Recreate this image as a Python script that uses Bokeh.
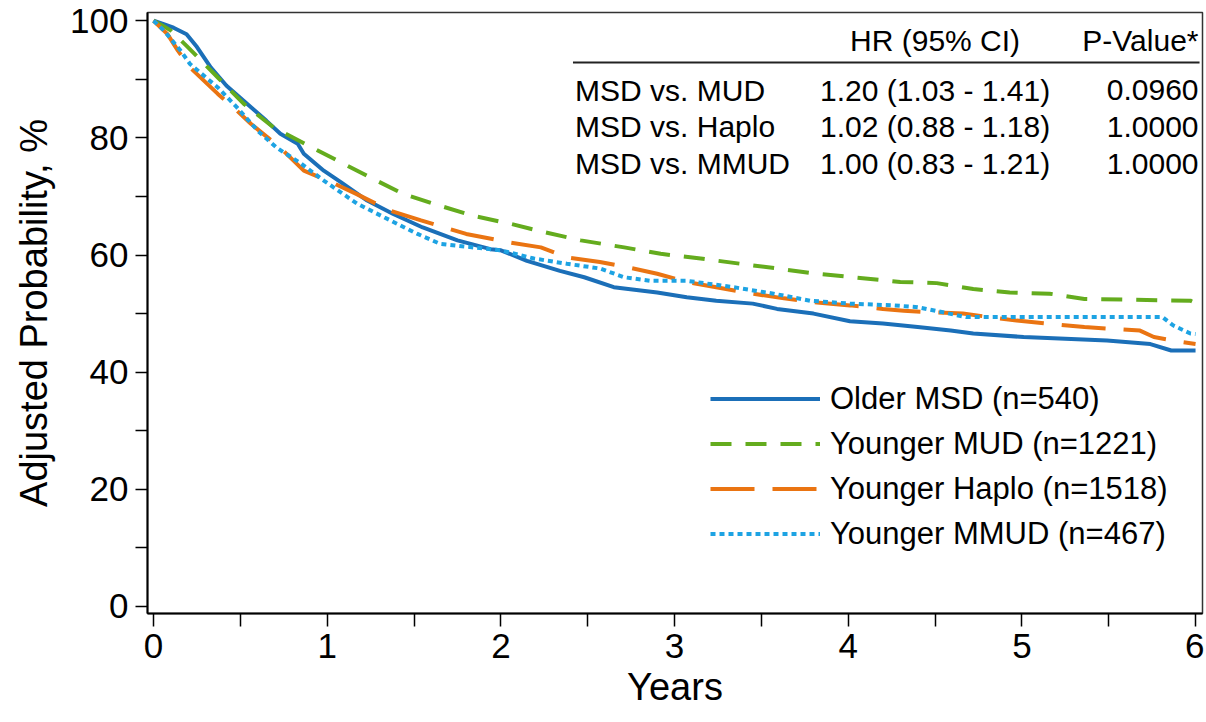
from bokeh.plotting import figure
from bokeh.models import FixedTicker, Legend, LegendItem, Range1d, ColumnDataSource
from bokeh.core.properties import value
from bokeh.embed import file_html
from bokeh.resources import INLINE

FONT = "Liberation Sans"

# ---------------- data ----------------
msd_t = [0, 0.05, 0.115, 0.19, 0.25, 0.33, 0.42, 0.52, 0.65, 0.73, 0.83, 0.865, 0.98, 1.08, 1.23,
         1.38, 1.55, 1.75, 1.94, 2.0, 2.15, 2.34, 2.48, 2.65, 2.9, 3.07, 3.24, 3.45, 3.59, 3.8,
         4.01, 4.2, 4.4, 4.59, 4.72, 5.01, 5.49, 5.74, 5.86, 6.0]
msd_p = [100, 99.5, 98.8, 97.7, 95.5, 92, 88.9, 86.3, 82.9, 80.7, 79, 77.3, 74.4, 72.4, 69.3,
         67, 64.7, 62.5, 61, 60.8, 59, 57.3, 56.2, 54.5, 53.6, 52.8, 52.2, 51.7, 50.8, 50,
         48.7, 48.3, 47.7, 47.1, 46.6, 46, 45.4, 44.8, 43.7, 43.7]

mud_t = [0, 0.05, 0.1, 0.19, 0.37, 0.52, 0.69, 0.87, 1.06, 1.25, 1.44, 1.65, 1.84, 2.06, 2.25,
         2.46, 2.71, 2.92, 3.15, 3.38, 3.59, 3.82, 4.03, 4.3, 4.51, 4.72, 4.93, 5.16, 5.36, 5.97, 6.0]
mud_p = [100, 99.2, 98.3, 95.7, 90.3, 85.8, 81.8, 79, 76.1, 73.2, 70.4, 68.4, 66.7, 65.3, 63.9,
         62.5, 61.3, 60.2, 59.4, 58.5, 57.7, 56.8, 56.2, 55.4, 55.2, 54.2, 53.6, 53.4, 52.5, 52.2, 51.8]

haplo_t = [0, 0.08, 0.14, 0.21, 0.37, 0.46, 0.56, 0.73, 0.865, 1.04, 1.17, 1.36, 1.54, 1.8, 2.04,
           2.23, 2.38, 2.57, 2.73, 2.9, 3.07, 3.24, 3.45, 3.63, 3.82, 4.01, 4.2, 4.32, 4.49, 4.66,
           4.97, 5.36, 5.68, 5.76, 5.93, 6.0]
haplo_p = [100, 97.7, 94.9, 92, 87.5, 85.2, 82.4, 78.3, 74.4, 72.2, 70.4, 67.6, 65.9, 63.6, 62.2,
           61.3, 59.6, 58.8, 57.9, 56.8, 55.4, 54.5, 53.4, 52.6, 51.9, 51.4, 50.8, 50.5, 50.2, 50,
           48.8, 47.7, 47.1, 46, 45.1, 44.8]

mmud_t = [0, 0.06, 0.155, 0.21, 0.37, 0.48, 0.6, 0.71, 0.85, 0.98, 1.17, 1.33, 1.52, 1.65, 2.0,
          2.19, 2.38, 2.57, 2.71, 2.86, 3.07, 3.34, 3.57, 3.78, 4.01, 4.26, 4.4, 4.68, 5.16, 5.81,
          5.87, 5.97, 6.0]
mmud_p = [100, 98.3, 94.9, 92.6, 88.6, 85.2, 81.2, 78.3, 75.6, 72.7, 68.8, 66.4, 63.6, 61.9, 60.8,
          59.4, 58.5, 57.7, 56.2, 55.6, 55.6, 54.5, 53.4, 52.2, 51.7, 51.4, 51.1, 49.4, 49.4, 49.4,
          48, 46.6, 46.5]

series_labels = ["Older MSD (n=540)", "Younger MUD (n=1221)", "Younger Haplo (n=1518)",
                 "Younger MMUD (n=467)"]

x_ticks = [0, 1, 2, 3, 4, 5, 6]
x_minor = [0.5, 1.5, 2.5, 3.5, 4.5, 5.5]
y_ticks = [0, 20, 40, 60, 80, 100]
y_minor = [10, 30, 50, 70, 90]

table_header = ["HR (95% CI)", "P-Value*"]
comparisons = ["MSD vs. MUD", "MSD vs. Haplo", "MSD vs. MMUD"]
hr_ci = ["1.20 (1.03 - 1.41)", "1.02 (0.88 - 1.18)", "1.00 (0.83 - 1.21)"]
p_values = ["0.0960", "1.0000", "1.0000"]

# ---------------- figure ----------------
p = figure(width=1204, height=722, output_backend="svg", toolbar_location=None,
           x_range=Range1d(-0.035, 6.04), y_range=Range1d(-1.2, 101.4),
           min_border_left=147, min_border_right=2, min_border_top=12, min_border_bottom=109)
p.xgrid.visible = False
p.ygrid.visible = False
p.outline_line_color = "#333333"
p.outline_line_width = 1.5
p.background_fill_color = "white"
p.border_fill_color = "white"

for ax, ticks, minor in ((p.xaxis[0], x_ticks, x_minor), (p.yaxis[0], y_ticks, y_minor)):
    ax.ticker = FixedTicker(ticks=ticks, minor_ticks=minor)
    ax.axis_line_width = 2
    ax.axis_line_color = "black"
    ax.major_tick_line_width = 1.5
    ax.minor_tick_line_width = 1.5
    ax.major_tick_line_color = "black"
    ax.minor_tick_line_color = "black"
    ax.major_tick_in = 0
    ax.minor_tick_in = 0
    ax.major_label_text_font = FONT
    ax.major_label_text_font_size = "35px"
    ax.major_label_text_color = "black"
    ax.axis_label_text_font = FONT
    ax.axis_label_text_font_size = "38px"
    ax.axis_label_text_font_style = "normal"
    ax.axis_label_text_color = "black"

p.xaxis.major_tick_out = 13
p.xaxis.minor_tick_out = 13
p.xaxis.major_label_standoff = 7
p.xaxis.axis_label_standoff = 5
p.xaxis.axis_label = "Years"

p.yaxis.major_tick_out = 12
p.yaxis.minor_tick_out = 12
p.yaxis.major_label_standoff = 7
p.yaxis.axis_label_standoff = 12
p.yaxis.axis_label = "Adjusted Probability, %"

# ---------------- curves ----------------
r_msd = p.line(msd_t, msd_p, line_color="#1B6FB8", line_width=4)
r_mud = p.line(mud_t, mud_p, line_color="#64AC1E", line_width=4, line_dash="21 14")
r_haplo = p.line(haplo_t, haplo_p, line_color="#EA7412", line_width=4, line_dash="44 18")
r_mmud = p.line(mmud_t, mmud_p, line_color="#1DA3E3", line_width=4, line_dash="5 4")

legend = Legend(items=[LegendItem(label=lab, renderers=[r]) for lab, r in
                       zip(series_labels, [r_msd, r_mud, r_haplo, r_mmud])],
                location=(563, 57), border_line_color=None, background_fill_alpha=0,
                glyph_width=110, glyph_height=45, label_height=45, spacing=0, padding=0,
                margin=0, label_standoff=10, label_text_font=FONT,
                label_text_font_size="31px", label_text_color="black")
p.add_layout(legend)

# ---------------- HR table ----------------
row_y = [88.1, 81.9, 75.6]
header_y = 96.6
p.text(x=[4.50], y=[header_y], text=[table_header[0]], text_font=value(FONT),
       text_font_size="30px", text_align="center", text_baseline="middle", text_color="black")
p.text(x=[6.017], y=[header_y], text=[table_header[1]], text_font=value(FONT),
       text_font_size="30px", text_align="right", text_baseline="middle", text_color="black")
p.segment(x0=[2.415], y0=[92.86], x1=[6.023], y1=[92.86], line_color="#222222", line_width=2)

tbl = ColumnDataSource(dict(y=row_y, comp=comparisons, hr=hr_ci, pv=p_values,
                            xc=[2.427] * 3, xh=[4.50] * 3, xp=[6.017] * 3))
p.text(x="xc", y="y", text="comp", source=tbl, text_font=value(FONT), text_font_size="30px",
       text_align="left", text_baseline="middle", text_color="black")
p.text(x="xh", y="y", text="hr", source=tbl, text_font=value(FONT), text_font_size="30px",
       text_align="center", text_baseline="middle", text_color="black")
p.text(x="xp", y="y", text="pv", source=tbl, text_font=value(FONT), text_font_size="30px",
       text_align="right", text_baseline="middle", text_color="black")

open("out.html", "w").write(file_html(p, INLINE))
